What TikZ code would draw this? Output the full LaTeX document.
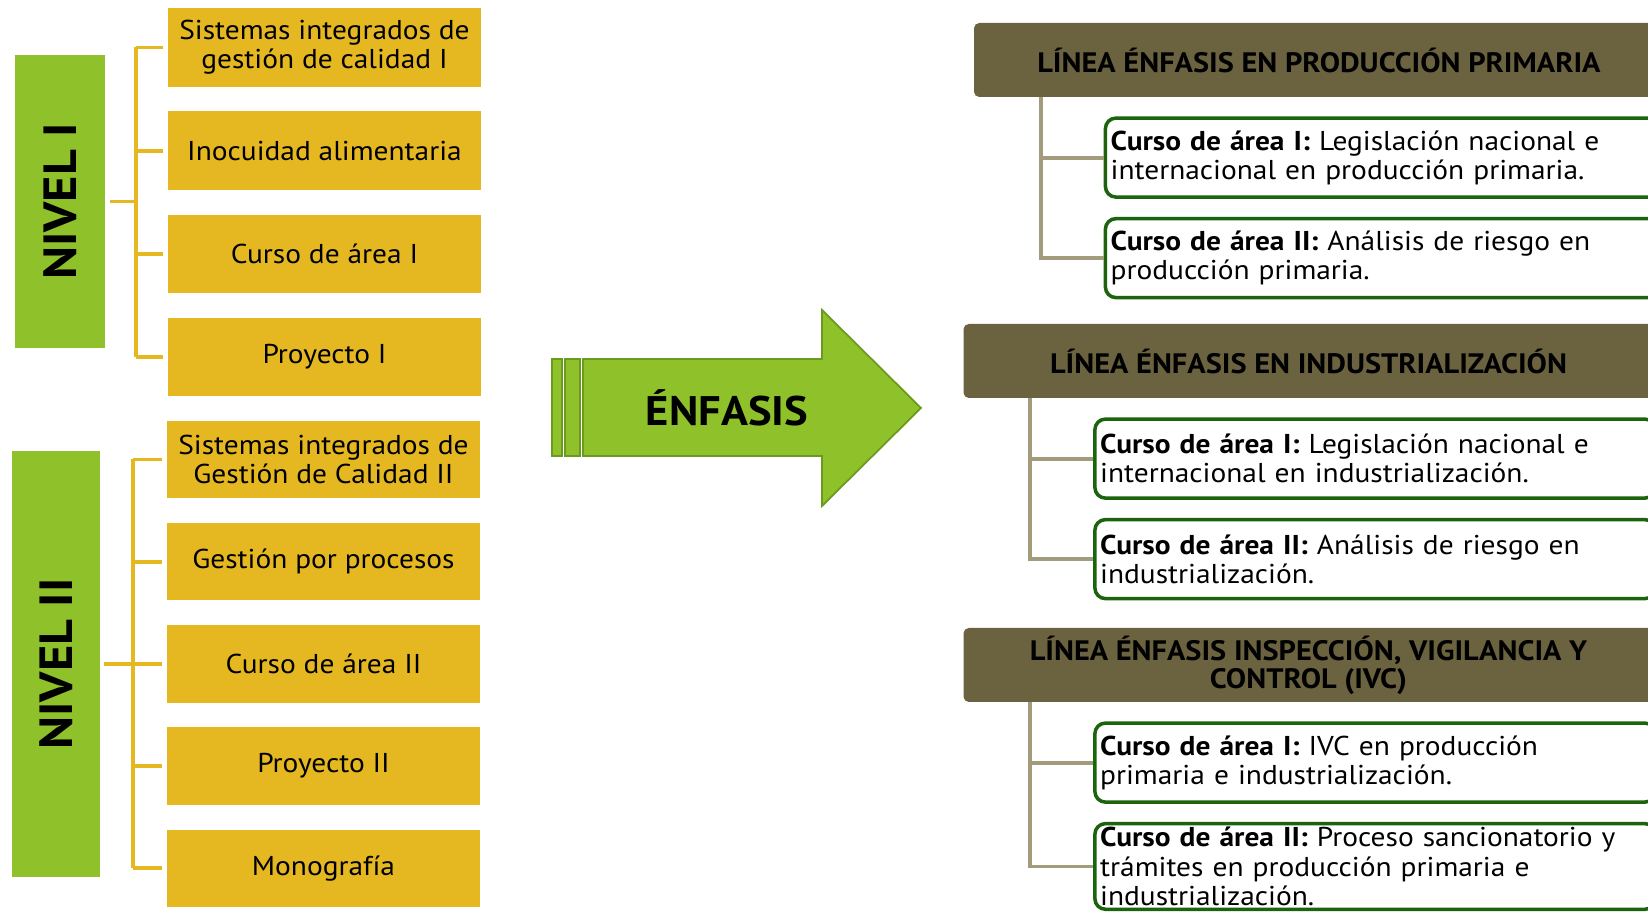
\documentclass[tikz,border=0pt]{standalone}
\usepackage{fontspec}
\setmainfont{PT Sans}[FakeStretch=1.08]
\usepackage{xcolor}
\usetikzlibrary{positioning}

\definecolor{verdenivel}{HTML}{8FC12A}
\definecolor{verdeosc}{HTML}{6A9A1E}
\definecolor{mostaza}{HTML}{E5B822}
\definecolor{oliva}{HTML}{6B633F}
\definecolor{bordecurso}{HTML}{1C630E}
\definecolor{gris}{HTML}{A39C7C}

\begin{document}
\begin{tikzpicture}[
    node distance=0.48cm,
    nivel/.style={
        fill=verdenivel,
        minimum width=1.8cm,
        inner sep=0pt,
        font=\bfseries\fontsize{26.5}{26.5}\selectfont
    },
    materia/.style={
        fill=mostaza,
        align=center,
        minimum width=6.26cm,
        minimum height=1.57cm,
        inner sep=2pt,
        font=\fontsize{15.5}{16.3}\selectfont
    },
    linea/.style={
        fill=oliva,
        rounded corners=3pt,
        align=center,
        minimum width=13.8cm,
        minimum height=1.48cm,
        inner sep=2pt,
        font=\bfseries\fontsize{16}{16}\selectfont
    },
    curso/.style={
        draw=bordecurso,
        line width=2pt,
        fill=white,
        rounded corners=6pt,
        align=left,
        text width=11cm,
        minimum height=1.58cm,
        inner xsep=3pt,
        inner ysep=2pt,
        font=\fontsize{15.5}{16.7}\selectfont
    },
    ramal/.style={draw=mostaza, line width=2.2pt},
    conector/.style={draw=gris, line width=2.2pt}
]
\useasboundingbox (0,0) rectangle (32.96,18.24);
\clip (0,0) rectangle (32.96,18.24);

% --- Nivel I ---
\node[nivel, minimum height=5.86cm] (nivelI) at (1.20,14.21) {\rotatebox{90}{NIVEL I}};

\node[materia] (m1) at (6.49,17.29) {Sistemas integrados de\\gestión de calidad I};
\node[materia, below=of m1] (m2) {Inocuidad alimentaria};
\node[materia, below=of m2] (m3) {Curso de área I};
\node[materia, below=of m3] (m4) {Proyecto I};

\coordinate[right=0.62cm of nivelI.east] (hub1);
\draw[ramal] ([xshift=0.1cm]nivelI.east) -- (hub1);
\draw[ramal] (hub1 |- m1.west) -- (hub1 |- m4.west);
\foreach \m in {m1,m2,m3,m4}
    \draw[ramal] (hub1 |- \m.west) -- ([xshift=-0.1cm]\m.west);

% --- Nivel II ---
\node[nivel, minimum width=1.76cm, minimum height=8.52cm] (nivelII) at (1.12,4.96) {\rotatebox{90}{NIVEL II}};

\node[materia, minimum height=1.55cm] (n1) at (6.47,9.05) {Sistemas integrados de\\Gestión de Calidad II};
\node[materia, minimum height=1.55cm, below=of n1] (n2) {Gestión por procesos};
\node[materia, minimum height=1.55cm, below=of n2] (n3) {Curso de área II};
\node[materia, minimum height=1.55cm, below=of n3] (n4) {Proyecto II};
\node[materia, minimum height=1.55cm, below=of n4] (n5) {Monografía};

\coordinate[right=0.66cm of nivelII.east] (hub2);
\draw[ramal] ([xshift=0.08cm]nivelII.east) -- (hub2);
\draw[ramal] (hub2 |- n1.west) -- (hub2 |- n5.west);
\foreach \m in {n1,n2,n3,n4,n5}
    \draw[ramal] (hub2 |- \m.west) -- ([xshift=-0.1cm]\m.west);

% --- Flecha ---
\filldraw[fill=verdenivel, draw=verdeosc, line width=1pt]
    (11.66,9.12) -- (16.44,9.12) -- (16.44,8.12) -- (18.42,10.08)
    -- (16.44,12.04) -- (16.44,11.06) -- (11.66,11.06) -- cycle;
\filldraw[fill=verdenivel, draw=verdeosc, line width=1pt] (11.30,9.12) rectangle (11.60,11.06);
\filldraw[fill=verdenivel, draw=verdeosc, line width=1pt] (11.04,9.12) rectangle (11.24,11.06);
\node[font=\bfseries\fontsize{23.5}{23.5}\selectfont] (enfasis) at (14.54,10.08) {ÉNFASIS};

% --- Líneas de énfasis ---
\node[linea] (h1) at (26.38,17.04) {LÍNEA ÉNFASIS EN PRODUCCIÓN PRIMARIA};
\node[curso, below right=0.38cm and 2.6cm of h1.south west] (c1a)
    {\textbf{Curso de área I:} Legislación nacional e\\internacional en producción primaria.};
\node[curso, below=0.36cm of c1a] (c1b)
    {\textbf{Curso de área II:} Análisis de riesgo en\\producción primaria.};
\draw[conector] ([xshift=1.34cm]h1.south west) |- (c1b.west);
\draw[conector] ([xshift=1.34cm]h1.south west |- c1a.west) -- (c1a.west);

\node[linea] (h2) at (26.17,11.02) {LÍNEA ÉNFASIS EN INDUSTRIALIZACIÓN};
\node[curso, below right=0.38cm and 2.6cm of h2.south west] (c2a)
    {\textbf{Curso de área I:} Legislación nacional e\\internacional en industrialización.};
\node[curso, below=0.36cm of c2a] (c2b)
    {\textbf{Curso de área II:} Análisis de riesgo en\\industrialización.};
\draw[conector] ([xshift=1.34cm]h2.south west) |- (c2b.west);
\draw[conector] ([xshift=1.34cm]h2.south west |- c2a.west) -- (c2a.west);

\node[linea] (h3) at (26.17,4.94) {LÍNEA ÉNFASIS INSPECCIÓN, VIGILANCIA Y\\CONTROL (IVC)};
\node[curso, below right=0.38cm and 2.6cm of h3.south west] (c3a)
    {\textbf{Curso de área I:} IVC en producción\\primaria e industrialización.};
\node[curso, below=0.36cm of c3a] (c3b)
    {\textbf{Curso de área II:} Proceso sancionatorio y\\trámites en producción primaria e\\industrialización.};
\draw[conector] ([xshift=1.34cm]h3.south west) |- (c3b.west);
\draw[conector] ([xshift=1.34cm]h3.south west |- c3a.west) -- (c3a.west);

\end{tikzpicture}
\end{document}
